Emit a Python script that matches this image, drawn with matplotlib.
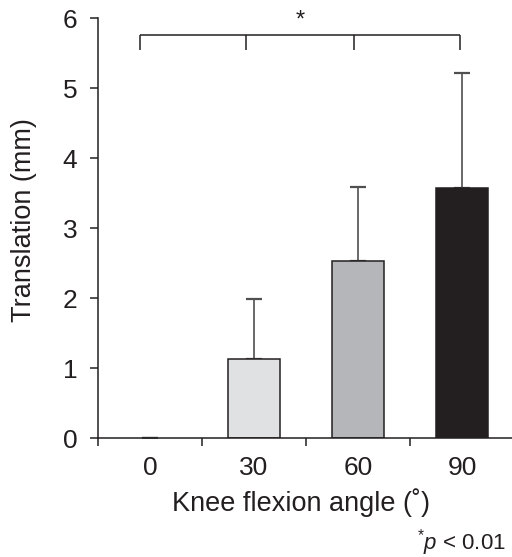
import matplotlib
matplotlib.use("Agg")
import matplotlib.pyplot as plt
import numpy as np

plt.rcParams['font.family'] = ['Liberation Sans', 'DejaVu Sans']
plt.rcParams['mathtext.fontset'] = 'custom'
plt.rcParams['mathtext.rm'] = 'Liberation Sans'
plt.rcParams['mathtext.it'] = 'Liberation Sans:italic'

categories = ["0", "30", "60", "90"]
means = [0.0, 1.13, 2.53, 3.57]
sds = [0.0, 0.85, 1.06, 1.65]
colors = ["#ffffff", "#e0e1e3", "#b5b6ba", "#231f20"]
y_ticks = [0, 1, 2, 3, 4, 5, 6]

dark = "#231f20"
fig = plt.figure(figsize=(5.12, 5.57), dpi=100)
ax = fig.add_axes([98/512, 119/557, 416/512, 420/557])

x = np.arange(len(categories))
ax.bar(x[1:], means[1:], width=0.5, color=colors[1:], edgecolor=dark, linewidth=1.1, zorder=2)
ax.errorbar(x, means, yerr=[np.zeros(len(sds)), sds], fmt='none', ecolor="#505050",
            elinewidth=1.2, capsize=6, capthick=1.6, zorder=1)

ax.set_xlim(-0.5, 3.5)
ax.set_ylim(0, 6)
ax.set_yticks(y_ticks)
ax.set_yticklabels([str(t) for t in y_ticks], fontsize=19)
ax.set_xticks(np.arange(-0.5, 3.0, 1.0))
ax.set_xticklabels([])
ax.set_xticks(x, minor=True)
ax.set_xticklabels(categories, minor=True, fontsize=19)
ax.tick_params(axis='x', which='major', direction='out', length=6, width=1.1, color=dark)
ax.tick_params(axis='x', which='minor', length=0, pad=13, labelcolor=dark)
ax.tick_params(axis='y', direction='out', length=6, width=1.1, color=dark, pad=9, labelcolor=dark)

for s in ['top', 'right']:
    ax.spines[s].set_visible(False)
for s in ['left', 'bottom']:
    ax.spines[s].set_linewidth(1.1)
    ax.spines[s].set_color(dark)

fig.text(24/512, 1 - 220/557, "Translation (mm)", rotation=90, ha='center', va='center',
         fontsize=19.5, color=dark)
ax.set_xlabel("Knee flexion angle (˚)", fontsize=19.5, color=dark)
ax.xaxis.set_label_coords(0.488, -0.12)

# significance bracket
bx = [-0.1, 0.92, 1.96, 2.98]
ytop, ybot = 5.76, 5.54
ax.plot([bx[0], bx[-1]], [ytop, ytop], color=dark, lw=1.1, clip_on=False, solid_capstyle='butt')
for b in bx:
    ax.plot([b, b], [ytop, ybot], color=dark, lw=1.1, clip_on=False, solid_capstyle='butt')
ax.text(1.44, 5.80, "*", ha='center', va='bottom', fontsize=17, color=dark)

fig.text(0.988, 0.014, r"$^{*}\it{p}$" + " < 0.01", ha='right', va='baseline',
         fontsize=16, color=dark)

fig.savefig("out.png", dpi=100, facecolor='white')
